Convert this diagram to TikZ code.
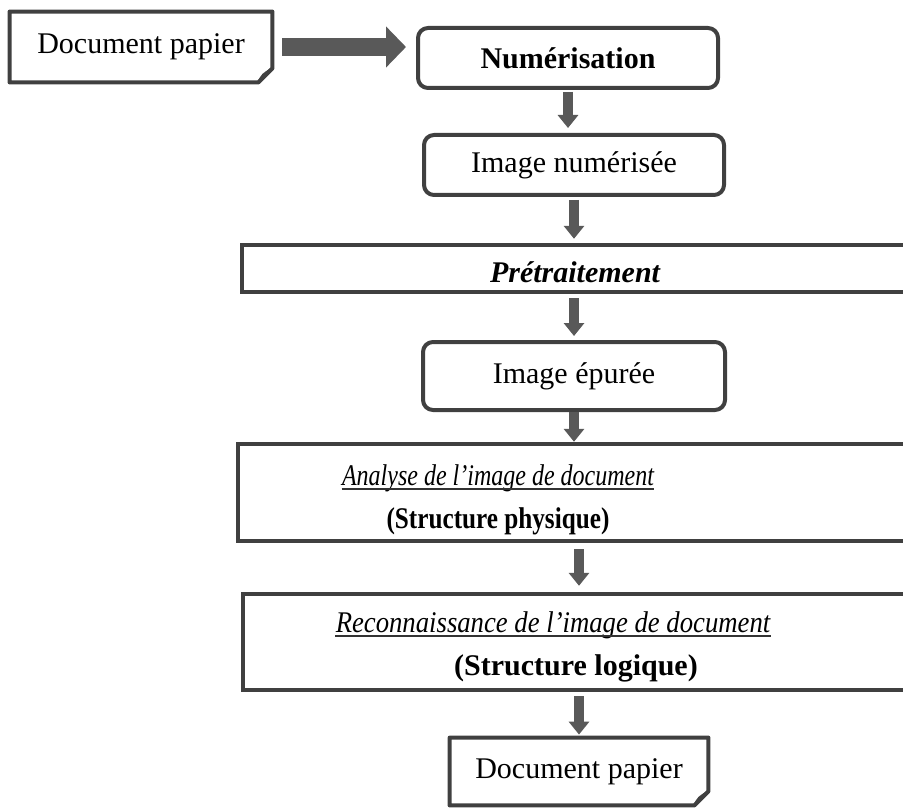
\documentclass[tikz,border=0pt]{standalone}
\usepackage{fontspec}
\setmainfont{Liberation Serif}
\usetikzlibrary{positioning,arrows.meta,calc}
\tikzset{
    >={Triangle[width=10pt,length=6.5pt]},
    contour/.style={draw=black!75, line width=2pt, line join=round},
    etape/.style={
        rectangle,
        rounded corners=5pt,
        contour,
        minimum width=150pt,
        minimum height=30pt,
        inner sep=0pt,
        font=\fontsize{15}{18}\selectfont
    },
    bande/.style={
        rectangle,
        draw=black!75, line width=2.2pt,
        inner sep=0pt
    },
    papier/.style={
        rectangle,
        inner sep=0pt,
        font=\fontsize{15}{18}\selectfont
    },
    texte/.style={inner sep=0pt, anchor=base},
    souligne/.style={draw=black!80, line width=1.3pt},
    fleche/.style={draw=black!65, line width=5pt, ->},
    grosse/.style={draw=black!65, line width=9pt, -{Triangle[width=20pt,length=10pt]}}
}
\newcommand{\feuillepliee}[1]{%
  \draw[contour] (#1.north west) -- (#1.north east) -- ([yshift=7pt]#1.south east)
      -- ([xshift=-7pt]#1.south east) -- (#1.south west) -- cycle;
  \filldraw[contour, fill=black!40, line width=1pt] ([yshift=7pt]#1.south east)
      .. controls ([xshift=-5pt,yshift=4pt]#1.south east) .. ([xshift=-7pt]#1.south east) -- cycle;}

\begin{document}
\begin{tikzpicture}[x=0.5pt, y=-0.5pt]
    \useasboundingbox (0,0) rectangle (903,807);
    \clip (0,0) rectangle (903,807);
    % colonne des etapes
    \node[papier, minimum width=131pt, minimum height=35pt] (docA) at (141,47) {Document papier};
    \node[etape, font=\fontsize{15}{18}\selectfont\bfseries] (numer) at (568,58) {Numérisation};
    \node[etape] (imgnum) at (574,165) {Image numérisée};
    \node[bande, minimum width=349pt, minimum height=23.5pt] (pretr) at (591,268.5) {};
    \node[etape, minimum width=151pt, minimum height=34pt] (imgep) at (574,376) {Image épurée};
    \node[bande, minimum width=351pt, minimum height=48.5pt] (analyse) at (589,492.5) {};
    \node[bande, minimum width=348.5pt, minimum height=48pt] (recon) at (591.5,642) {};
    \node[papier, minimum width=129pt, minimum height=33.5pt] (docB) at (579,771.5) {Document papier};
    \feuillepliee{docA}
    \feuillepliee{docB}
    % textes des bandes
    \node[texte, font=\fontsize{15}{18}\selectfont\bfseries\itshape] (pretrtxt) at (575,283) {Prétraitement};
    \node[texte, font=\fontsize{15}{18}\selectfont\itshape] (anltxt) at (498,485) {\scalebox{0.8}[1]{Analyse de l’image de document}};
    \node[texte, font=\fontsize{15}{18}\selectfont\bfseries] (anlsous) at (498,528) {\scalebox{0.84}[1]{(Structure physique)}};
    \node[texte, font=\fontsize{15}{18}\selectfont\itshape] (rectxt) at (553,632) {\scalebox{0.89}[1]{Reconnaissance de l’image de document}};
    \node[texte, font=\fontsize{15}{18}\selectfont\bfseries] (recsous) at (576,675) {(Structure logique)};
    \draw[souligne] ([yshift=-2pt]anltxt.base west) -- ([yshift=-2pt]anltxt.base east);
    \draw[souligne] ([yshift=-2pt]rectxt.base west) -- ([yshift=-2pt]rectxt.base east);
    % fleches
    \draw[grosse, shorten <=5pt, shorten >=5pt] (docA.east) -- (docA.east -| numer.west);
    \draw[fleche, shorten <=1pt, shorten >=2.5pt] (numer.south) -- (numer.south |- imgnum.north);
    \draw[fleche, shorten <=1.5pt, shorten >=2pt] (imgnum.south) -- (imgnum.south |- pretr.north);
    \draw[fleche, shorten <=2pt, shorten >=2pt] (pretr.south -| imgep.north) -- (imgep.north);
    \draw[fleche, shorten <=0pt, shorten >=0pt] (imgep.south) -- (imgep.south |- analyse.north);
    \draw[fleche, shorten <=3pt, shorten >=3pt] (analyse.south -| docB.north) -- (recon.north -| docB.north);
    \draw[fleche, shorten <=2pt, shorten >=1.5pt] (recon.south -| docB.north) -- (docB.north);
\end{tikzpicture}
\end{document}
